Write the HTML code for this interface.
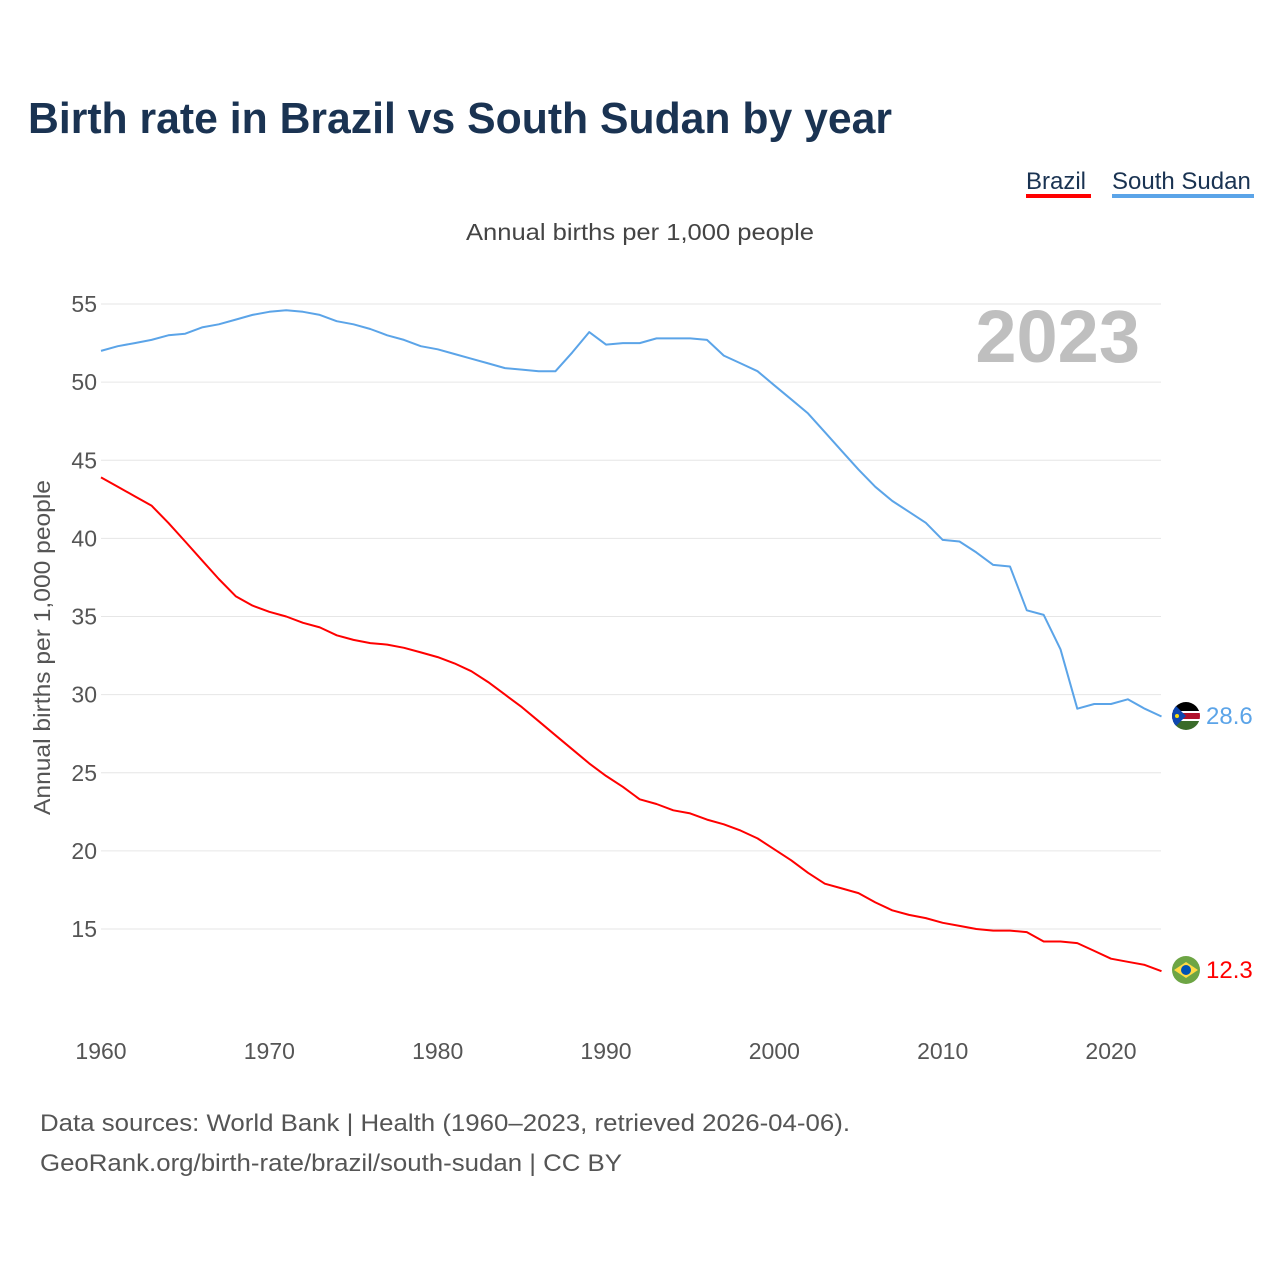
<!DOCTYPE html>
<html><head><meta charset="utf-8"><style>
body{margin:0;background:#fff;width:1280px;height:1280px;overflow:hidden;font-family:"Liberation Sans",sans-serif}
</style></head><body>
<svg id="chart" width="1280" height="1280" xmlns="http://www.w3.org/2000/svg" font-family="Liberation Sans, sans-serif">
<defs>
<clipPath id="c1"><circle cx="1186" cy="716" r="14"/></clipPath>
<clipPath id="c2"><circle cx="1186" cy="970" r="14"/></clipPath>
</defs>
<text x="28" y="133" font-size="44" font-weight="bold" fill="#1a3352" textLength="864" lengthAdjust="spacingAndGlyphs">Birth rate in Brazil vs South Sudan by year</text>
<g>
<text x="1026" y="189" font-size="24" fill="#1a3352">Brazil</text>
<rect x="1026" y="194" width="65" height="4" fill="#ff0000"/>
</g>
<g>
<text x="1112" y="189" font-size="24" fill="#1a3352">South Sudan</text>
<rect x="1112" y="194" width="142" height="4" fill="#5ba4e8"/>
</g>
<text x="466" y="240" font-size="23" fill="#444" textLength="348" lengthAdjust="spacingAndGlyphs">Annual births per 1,000 people</text>
<text transform="translate(50,815) rotate(-90)" font-size="23" fill="#555" textLength="335" lengthAdjust="spacingAndGlyphs">Annual births per 1,000 people</text>
<text x="1140" y="362" font-size="74" font-weight="bold" fill="#bfbfbf" text-anchor="end">2023</text>
<g id="grid"></g><g id="series"></g>
<g clip-path="url(#c1)">
<rect x="1172" y="702" width="28" height="9" fill="#000"/>
<rect x="1172" y="711" width="28" height="10" fill="#fff"/>
<rect x="1172" y="713" width="28" height="6" fill="#b0122c"/>
<rect x="1172" y="721" width="28" height="9" fill="#3a6b2a"/>
<polygon points="1172,702 1186,716 1172,730" fill="#0f47af"/>
<circle cx="1177" cy="716" r="2" fill="#fcdd09"/>
</g>
<g clip-path="url(#c2)">
<rect x="1172" y="956" width="28" height="28" fill="#6da544"/>
<polygon points="1174,970 1186,962 1198,970 1186,978" fill="#ffda44"/>
<circle cx="1186" cy="970" r="5" fill="#0052b4"/>
</g>
<text x="1206" y="724" font-size="24" fill="#5ba4e8">28.6</text>
<text x="1206" y="978" font-size="24" fill="#ff0000">12.3</text>
<text x="40" y="1131" font-size="24" fill="#555" textLength="810" lengthAdjust="spacingAndGlyphs">Data sources: World Bank | Health (1960–2023, retrieved 2026-04-06).</text>
<text x="40" y="1171" font-size="24" fill="#555" textLength="582" lengthAdjust="spacingAndGlyphs">GeoRank.org/birth-rate/brazil/south-sudan | CC BY</text>
</svg>
<script>
const years=[];for(let y=1960;y<=2023;y++)years.push(y);
const brazil=[43.9,43.3,42.7,42.1,41.0,39.8,38.6,37.4,36.3,35.7,35.3,35.0,34.6,34.3,33.8,33.5,33.3,33.2,33.0,32.7,32.4,32.0,31.5,30.8,30.0,29.2,28.3,27.4,26.5,25.6,24.8,24.1,23.3,23.0,22.6,22.4,22.0,21.7,21.3,20.8,20.1,19.4,18.6,17.9,17.6,17.3,16.7,16.2,15.9,15.7,15.4,15.2,15.0,14.9,14.9,14.8,14.2,14.2,14.1,13.6,13.1,12.9,12.7,12.3];
const southSudan=[52.0,52.3,52.5,52.7,53.0,53.1,53.5,53.7,54.0,54.3,54.5,54.6,54.5,54.3,53.9,53.7,53.4,53.0,52.7,52.3,52.1,51.8,51.5,51.2,50.9,50.8,50.7,50.7,51.9,53.2,52.4,52.5,52.5,52.8,52.8,52.8,52.7,51.7,51.2,50.7,49.8,48.9,48.0,46.8,45.6,44.4,43.3,42.4,41.7,41.0,39.9,39.8,39.1,38.3,38.2,35.4,35.1,32.9,29.1,29.4,29.4,29.7,29.1,28.6];
const yTicks=[15,20,25,30,35,40,45,50,55];
const xTicks=[1960,1970,1980,1990,2000,2010,2020];
const NS="http://www.w3.org/2000/svg";
const X=v=>101+(v-1960)*(1111-101)/60;
const Y=v=>304+(55-v)*(929-304)/40;
const grid=document.getElementById('grid'),ser=document.getElementById('series');
function mk(tag,attrs,parent){const e=document.createElementNS(NS,tag);for(const k in attrs)e.setAttribute(k,attrs[k]);parent.appendChild(e);return e;}
yTicks.forEach(t=>{
 const l=mk('line',{x1:101,x2:1161,y1:Y(t),y2:Y(t),stroke:'#e6e6e6','stroke-width':1},grid);
 
 
 const tx=mk('text',{x:97,y:Y(t)+8,'font-size':23,fill:'#555','text-anchor':'end'},grid);
 tx.textContent=t;
 
 
});
xTicks.forEach(t=>{
 const tx=mk('text',{x:X(t),y:1059,'font-size':23,fill:'#555','text-anchor':'middle'},grid);
 tx.textContent=t;
 
 
});
function line(vals,color,name){
 const d=vals.map((v,i)=>(i?'L':'M')+X(years[i]).toFixed(1)+','+Y(v).toFixed(1)).join(' ');
 const p=mk('path',{d:d,fill:'none',stroke:color,'stroke-width':2,'stroke-linejoin':'round'},ser);
 
 
}
line(southSudan,'#5ba4e8','south-sudan-line');
line(brazil,'#ff0000','brazil-line');
</script>
</body></html>
